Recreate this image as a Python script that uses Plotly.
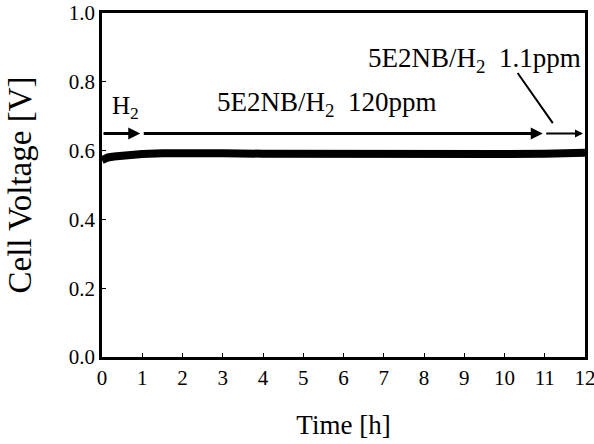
import plotly.graph_objects as go

# Data
time_h = [0, 0.05, 0.15, 0.3, 0.5, 0.75, 1, 1.5, 2, 3, 4, 5, 6, 7, 8, 9, 10, 11, 11.5, 12]
cell_voltage = [0.572, 0.576, 0.580, 0.583, 0.586, 0.588, 0.590, 0.592, 0.593, 0.592,
                0.591, 0.590, 0.589, 0.589, 0.589, 0.589, 0.590, 0.591, 0.593, 0.594]

phase_bounds = [0, 1, 11, 12]
phase_level = 0.65
x_ticks = list(range(0, 13))
y_ticks = [0.0, 0.2, 0.4, 0.6, 0.8, 1.0]
y_tick_labels = ["0.0", "0.2", "0.4", "0.6", "0.8", "1.0"]

FONT = "Liberation Serif, Times New Roman, serif"

fig = go.Figure()
fig.add_trace(go.Scatter(x=time_h, y=cell_voltage, mode="lines",
                         line=dict(color="black", width=8), showlegend=False,
                         hoverinfo="skip"))

# phase arrows
widths = [3, 3, 2]
for i in range(3):
    fig.add_annotation(x=phase_bounds[i + 1], y=phase_level, ax=phase_bounds[i], ay=phase_level,
                       xref="x", yref="y", axref="x", ayref="y", text="",
                       showarrow=True, arrowhead=2, arrowsize=0.8, arrowwidth=widths[i],
                       arrowcolor="black", standoff=2)

fig.add_annotation(x=0.2, y=0.725, xref="x", yref="y", text="H<sub>2</sub>",
                   showarrow=False, xanchor="left", yanchor="middle",
                   font=dict(family=FONT, size=25, color="black"))
fig.add_annotation(x=5.57, y=0.735, xref="x", yref="y", text="5E2NB/H<sub>2</sub>&nbsp;&nbsp;120ppm",
                   showarrow=False, xanchor="center", yanchor="middle",
                   font=dict(family=FONT, size=27, color="black"))
fig.add_annotation(x=11.95, y=0.862, xref="x", yref="y", text="5E2NB/H<sub>2</sub>&nbsp;&nbsp;1.1ppm",
                   showarrow=False, xanchor="right", yanchor="middle",
                   font=dict(family=FONT, size=27, color="black"))
fig.add_annotation(x=11.2, y=0.68, ax=10.3, ay=0.83, xref="x", yref="y", axref="x", ayref="y",
                   text="", showarrow=True, arrowhead=0, arrowwidth=2, arrowcolor="black")

fig.update_xaxes(range=[0, 12], tickvals=x_ticks, ticks="inside", ticklen=4,
                 tickcolor="black", showline=True, linecolor="black", linewidth=2.5,
                 mirror=True, showgrid=False, zeroline=False, automargin=False,
                 ticklabeloverflow="allow",
                 tickfont=dict(family=FONT, size=21, color="black"),
                 title=dict(text="Time [h]", font=dict(family=FONT, size=27, color="black"),
                            standoff=27))
fig.update_yaxes(range=[0, 1.0], tickvals=y_ticks, ticktext=y_tick_labels, ticks="inside",
                 ticklen=4, tickcolor="black", showline=True, linecolor="black", linewidth=2.5,
                 mirror=True, showgrid=False, zeroline=False, automargin=False,
                 ticklabeloverflow="allow",
                 tickfont=dict(family=FONT, size=21, color="black"),
                 title=dict(text="Cell Voltage [V]",
                            font=dict(family=FONT, size=33, color="black"),
                            standoff=28))

fig.update_layout(width=594, height=444, plot_bgcolor="white", paper_bgcolor="white",
                  margin=dict(l=102, r=9, t=13, b=87), showlegend=False)

fig.write_html("out.html", config={"displayModeBar": False},
               post_script="document.body.style.margin='0';"
                           "document.documentElement.style.overflow='hidden';"
                           "document.body.style.overflow='hidden';")
